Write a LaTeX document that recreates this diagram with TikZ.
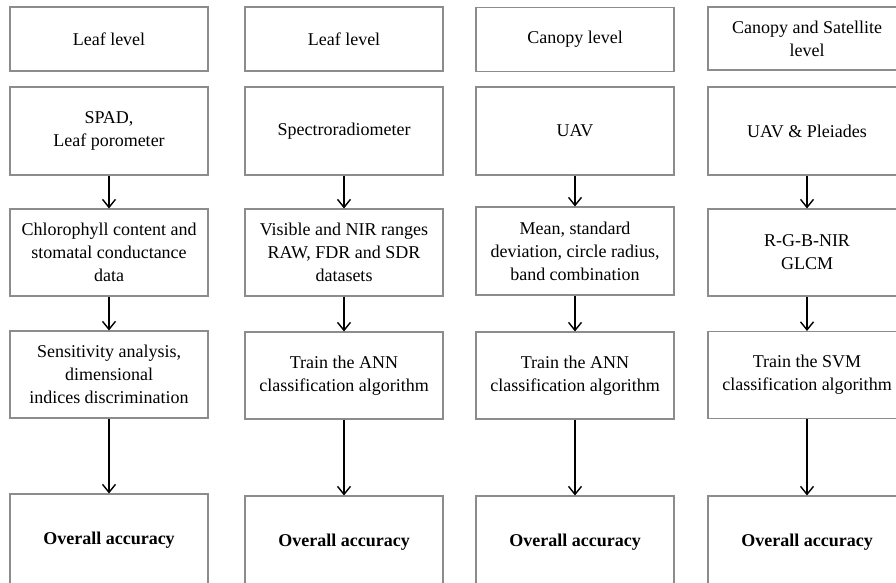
\documentclass[tikz,border=0pt]{standalone}
\usepackage{fontspec}
\setmainfont{Liberation Serif}
\usetikzlibrary{arrows.meta}
\definecolor{boxgray}{gray}{0.55}
\begin{document}
\begin{tikzpicture}[x=1pt,y=-1pt,
  box/.style={draw=boxgray,line width=1.1pt,rectangle,minimum width=198pt,inner sep=0pt,
    align=center,font=\fontsize{18}{23}\selectfont},
  arr/.style={draw=black,line width=1.5pt,-{Straight Barb[length=8pt,width=13pt,line width=1.4pt]}}]
\useasboundingbox (0,0) rectangle (896,583);
\clip (0,0) rectangle (896,583);
\fill[white] (0,0) rectangle (896,583);
% column 1
\node[box,minimum height=64pt] (a1) at (109,39) {Leaf level};
\node[box,minimum height=88pt] (a2) at (109,131) {SPAD,\\Leaf porometer};
\node[box,minimum height=87pt] (a3) at (109,252.5) {Chlorophyll content and\\stomatal conductance\\data};
\node[box,minimum height=87pt] (a4) at (109,374.5) {Sensitivity analysis,\\dimensional\\indices discrimination};
\node[box,minimum height=92pt] (a5) at (109,540) {\textbf{Overall accuracy}};
% column 2
\node[box,minimum height=64pt] (b1) at (344,39) {Leaf level};
\node[box,minimum height=88pt] (b2) at (344,131) {Spectroradiometer};
\node[box,minimum height=87pt] (b3) at (344,252.5) {Visible and NIR ranges\\RAW, FDR and SDR\\datasets};
\node[box,minimum height=87pt] (b4) at (344,375.5) {Train the ANN\\classification algorithm};
\node[box,minimum height=92pt] (b5) at (344,542) {\textbf{Overall accuracy}};
% column 3
\node[box,minimum height=64pt] (c1) at (575,39.5) {Canopy level};
\node[box,minimum height=88pt] (c2) at (575,131) {UAV};
\node[box,minimum height=88pt] (c3) at (575,251) {Mean, standard\\deviation, circle radius,\\band combination};
\node[box,minimum height=87pt] (c4) at (575,375.5) {Train the ANN\\classification algorithm};
\node[box,minimum height=92pt] (c5) at (575,542) {\textbf{Overall accuracy}};
% column 4
\node[box,minimum height=63pt] (d1) at (807,38.5) {Canopy and Satellite\\level};
\node[box,minimum height=88pt] (d2) at (807,131) {UAV \& Pleiades};
\node[box,minimum height=87pt] (d3) at (807,252.5) {R-G-B-NIR\\GLCM};
\node[box,minimum height=87pt] (d4) at (807,375) {Train the SVM\\classification algorithm};
\node[box,minimum height=92pt] (d5) at (807,542) {\textbf{Overall accuracy}};
% arrows
\foreach \c in {a,b,c,d}{
  \draw[arr] (\c2) -- (\c3);
  \draw[arr] (\c3) -- (\c4);
  \draw[arr] (\c4) -- (\c5);
}
\end{tikzpicture}
\end{document}
